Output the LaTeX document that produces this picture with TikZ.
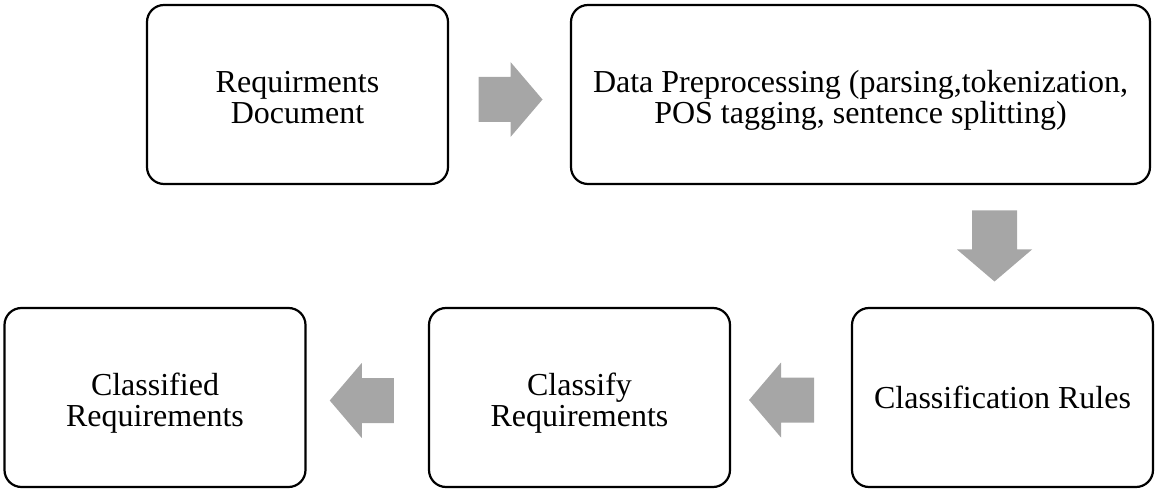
\documentclass[tikz,border=0pt]{standalone}
\usepackage{fontspec}
\setmainfont{Liberation Serif}
\usetikzlibrary{calc}
\definecolor{arrowgray}{HTML}{A6A6A6}
% two centred lines whose first baseline sits just above the box centre
\newcommand{\twolines}[2]{\raisebox{2pt}[0pt][0pt]{\begin{tabular}[t]{@{}c@{}}#1\\#2\end{tabular}}}
\tikzset{
  stage/.style={draw=black, line width=2.2pt, rounded corners=17pt,
    minimum width=301pt, minimum height=179pt, align=center,
    inner sep=0pt, font=\fontsize{32}{31}\selectfont},
  pics/blockarrow/.style={code={
    \fill[arrowgray] (-#1/2,-22.5) -- (#1/2-32,-22.5) -- (#1/2-32,-37.5)
      -- (#1/2,0) -- (#1/2-32,37.5) -- (#1/2-32,22.5) -- (-#1/2,22.5) -- cycle;
  }},
}
\begin{document}
\begin{tikzpicture}[x=1pt,y=1pt]
  \useasboundingbox (0,0) rectangle (1155,490);

  % process stages
  \node[stage] (doc) at (297.5,395.5) {\twolines{Requirments}{Document}};
  \node[stage, minimum width=579pt] (prep) at (860.5,395.5)
    {\twolines{Data Preprocessing (parsing,tokenization,}{POS tagging, sentence splitting)}};
  \node[stage] (rules) at (1002.5,92.5) {Classification Rules};
  \node[stage] (classify) at (579.5,92.5) {\twolines{Classify}{Requirements}};
  \node[stage] (result) at (155,92.5) {\twolines{Classified}{Requirements}};

  % block arrows between the stages
  \coordinate (a1) at ($(doc.east)!0.5!(prep.west)+(1,-5)$);
  \coordinate (a2) at ($(prep.south -| rules.north)!0.5!(rules.north)+(-8,0)$);
  \coordinate (a3) at ($(rules.west)!0.5!(classify.east)+(-9.5,-2.5)$);
  \coordinate (a4) at ($(classify.west)!0.5!(result.east)+(-5.5,-3)$);

  \pic at (a1) {blockarrow=64};
  \pic[rotate=-90] at (a2) {blockarrow=71};
  \pic[rotate=180] at (a3) {blockarrow=65};
  \pic[rotate=180] at (a4) {blockarrow=64};
\end{tikzpicture}
\end{document}
